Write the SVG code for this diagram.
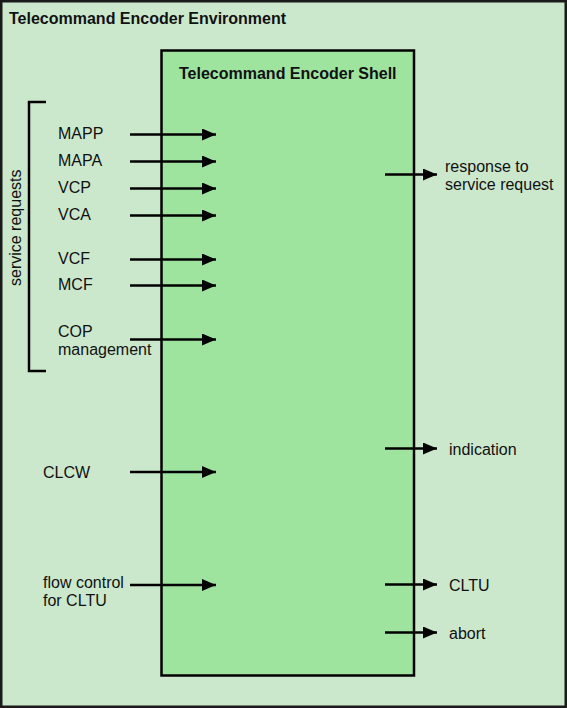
<svg xmlns="http://www.w3.org/2000/svg" width="567" height="708" viewBox="0 0 567 708">
<style>
.t{font-family:"Liberation Sans",Arial,sans-serif;font-size:16px;fill:#111}
.b{font-weight:bold}
.c{stroke:#000;stroke-width:2.5;fill:none}
</style>
<defs>
<marker id="ah" markerUnits="userSpaceOnUse" markerWidth="15" markerHeight="12" refX="14" refY="6" orient="auto">
<path d="M0,0 L14,6 L0,12 Z" fill="#000"/>
</marker>
</defs>
<g id="environment">
<rect x="1.25" y="1.25" width="564.5" height="705.5" fill="#cce8cc" stroke="#1a1a1a" stroke-width="2.5"/>
<text class="t b" x="9" y="24">Telecommand Encoder Environment</text>
</g>
<g id="shell">
<rect x="161.5" y="50.5" width="252.5" height="625" fill="#9ee39e" stroke="#000" stroke-width="2.5"/>
<text class="t b" x="179" y="79">Telecommand Encoder Shell</text>
</g>
<g id="service-requests">
<path class="c" d="M46,102 H29 V371 H46"/>
<text class="t" transform="translate(21,286) rotate(-90)">service requests</text>
</g>
<g id="labels">
<text class="t" x="58" y="139">MAPP</text>
<text class="t" x="58" y="166">MAPA</text>
<text class="t" x="58" y="193">VCP</text>
<text class="t" x="58" y="220">VCA</text>
<text class="t" x="58" y="263.5">VCF</text>
<text class="t" x="58" y="290">MCF</text>
<text class="t" x="58" y="337">COP</text>
<text class="t" x="58" y="355">management</text>
<text class="t" x="43" y="478">CLCW</text>
<text class="t" x="43" y="588">flow control</text>
<text class="t" x="43" y="606">for CLTU</text>
<text class="t" x="445" y="172">response to</text>
<text class="t" x="445" y="190">service request</text>
<text class="t" x="449" y="455">indication</text>
<text class="t" x="449" y="591">CLTU</text>
<text class="t" x="449" y="639">abort</text>
</g>
<g id="connectors" stroke="#000" stroke-width="2.5" marker-end="url(#ah)">
<line x1="130" y1="134.5" x2="216" y2="134.5"/>
<line x1="130" y1="161.5" x2="216" y2="161.5"/>
<line x1="130" y1="188.5" x2="216" y2="188.5"/>
<line x1="130" y1="215.5" x2="216" y2="215.5"/>
<line x1="130" y1="259.5" x2="216" y2="259.5"/>
<line x1="130" y1="285.5" x2="216" y2="285.5"/>
<line x1="130" y1="339.5" x2="216" y2="339.5"/>
<line x1="130" y1="472" x2="216" y2="472"/>
<line x1="130" y1="585" x2="216" y2="585"/>
<line x1="385" y1="174.5" x2="437" y2="174.5"/>
<line x1="385" y1="448.5" x2="437" y2="448.5"/>
<line x1="385" y1="584.5" x2="437" y2="584.5"/>
<line x1="385" y1="632.5" x2="437" y2="632.5"/>
</g>
</svg>
